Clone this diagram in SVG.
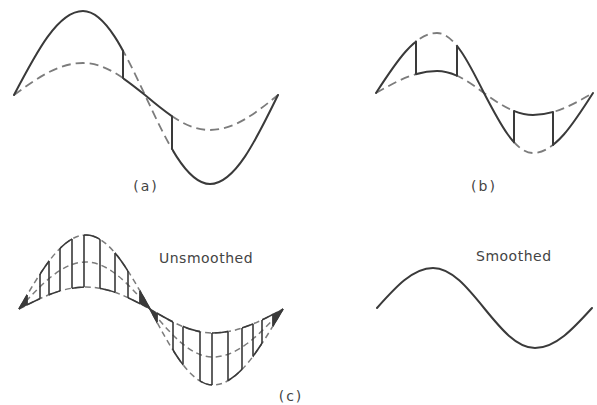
<svg xmlns="http://www.w3.org/2000/svg" width="597" height="405" viewBox="0 0 597 405">
<style>
.s{fill:none;stroke:#3a3a3a;stroke-width:2;stroke-linejoin:round;stroke-linecap:round}
.sc{fill:none;stroke:#3a3a3a;stroke-width:1.6;stroke-linejoin:round}
.d{fill:none;stroke:#7c7c7c;stroke-width:1.8;stroke-dasharray:9 5}
.dc{fill:none;stroke:#7c7c7c;stroke-width:1.5;stroke-dasharray:6 4}
.w{fill:#3a3a3a;stroke:#3a3a3a;stroke-width:1}
.t{font-family:"DejaVu Sans","Liberation Sans",sans-serif;fill:#444}
</style>
<defs>
<path id="aL" d="M14,95 C36.50,51.97 58.03,11 83,11 C105.44,11 124.78,51.97 145,95 C166.20,140.59 186.48,184 210,184 C234.61,184 255.82,140.59 278,95"/>
<path id="aS" d="M14,95 C36.50,78.61 58.03,63 83,63 C105.44,63 124.78,78.61 145,95 C166.20,112.93 186.48,130 210,130 C234.61,130 255.82,112.93 278,95"/>
<path id="bL" d="M376,93 C395.89,62.26 414.92,33 437,33 C454.01,33 468.67,62.26 484,93 C499.98,123.74 515.27,153 533,153 C554.71,153 573.43,123.74 593,93"/>
<path id="bS" d="M376,93 C395.89,81.73 414.92,71 437,71 C454.01,71 468.67,81.73 484,93 C499.98,104.27 515.27,115 533,115 C554.71,115 573.43,104.27 593,93"/>
<path id="cO" d="M19,309 C40.85,271.09 61.75,235 86,235 C109.16,235 129.13,271.09 150,309 C170.55,347.93 190.20,385 213,385 C238.33,385 260.17,347.93 283,309"/>
<path id="cM" d="M19,309 C40.85,284.92 61.75,262 86,262 C109.16,262 129.13,284.92 150,309 C170.55,333.59 190.20,357 213,357 C238.33,357 260.17,333.59 283,309"/>
<path id="cI" d="M19,309 C40.85,297.73 61.75,287 86,287 C109.16,287 129.13,297.73 150,309 C170.55,321.29 190.20,333 213,333 C238.33,333 260.17,321.29 283,309"/>
<clipPath id="kA1"><rect x="0" y="0" width="123" height="200"/><rect x="172" y="0" width="128" height="200"/></clipPath>
<clipPath id="kA2"><rect x="123" y="0" width="49" height="200"/></clipPath>
<clipPath id="kB1"><rect x="360" y="0" width="56" height="200"/><rect x="457" y="0" width="57" height="200"/><rect x="553" y="0" width="44" height="200"/></clipPath>
<clipPath id="kB2"><rect x="416" y="0" width="41" height="200"/><rect x="514" y="0" width="39" height="200"/></clipPath>
<clipPath id="kC1">
<rect x="0" y="220" width="27" height="180"/><rect x="40" y="220" width="9" height="180"/><rect x="60" y="220" width="12" height="180"/><rect x="84" y="220" width="16" height="180"/><rect x="115" y="220" width="13" height="180"/><rect x="140" y="220" width="17" height="180"/><rect x="173" y="220" width="10" height="180"/><rect x="200" y="220" width="12" height="180"/><rect x="228" y="220" width="14" height="180"/><rect x="253" y="220" width="9" height="180"/><rect x="273" y="220" width="27" height="180"/>
</clipPath>
<clipPath id="kC2">
<rect x="27" y="220" width="13" height="180"/><rect x="49" y="220" width="11" height="180"/><rect x="72" y="220" width="12" height="180"/><rect x="100" y="220" width="15" height="180"/><rect x="128" y="220" width="12" height="180"/><rect x="157" y="220" width="16" height="180"/><rect x="183" y="220" width="17" height="180"/><rect x="212" y="220" width="16" height="180"/><rect x="242" y="220" width="11" height="180"/><rect x="262" y="220" width="11" height="180"/>
</clipPath>
</defs>
<rect width="597" height="405" fill="#ffffff"/>

<g id="panel-a">
<use href="#aS" class="d" clip-path="url(#kA1)"/>
<use href="#aL" class="d" clip-path="url(#kA2)"/>
<use href="#aL" class="s" clip-path="url(#kA1)"/>
<use href="#aS" class="s" clip-path="url(#kA2)"/>
<path class="s" d="M123,50.6 V78.1 M172,116.3 V149"/>
<text class="t" x="146" y="191" font-size="14" text-anchor="middle" letter-spacing="2">(a)</text>
</g>

<g id="panel-b">
<use href="#bS" class="d" clip-path="url(#kB1)"/>
<use href="#bL" class="d" clip-path="url(#kB2)"/>
<use href="#bL" class="s" clip-path="url(#kB1)"/>
<use href="#bS" class="s" clip-path="url(#kB2)"/>
<path class="s" d="M416,41.6 V74.1 M457,45.9 V75.7 M514,111 V142.2 M553,112.1 V145"/>
<text class="t" x="484" y="191" font-size="14" text-anchor="middle" letter-spacing="2">(b)</text>
</g>

<g id="panel-c-unsmoothed">
<use href="#cO" class="dc"/>
<use href="#cM" class="dc"/>
<use href="#cI" class="dc"/>
<use href="#cO" class="sc" clip-path="url(#kC1)"/>
<use href="#cI" class="sc" clip-path="url(#kC2)"/>
<path class="sc" d="M27,295.2 V304.9 M40,274 V298.6 M49,261.1 V294.8 M60,248.3 V291 M72,239 V288.2 M84,235.1 V287 M100,239.3 V288.3 M115,253 V292.3 M128,270.9 V297.7 M140,291 V303.7 M157,313.2 V322.2 M173,322 V350.2 M183,326.6 V364.7 M200,331.7 V381 M212,333 V385 M228,331.7 V380.7 M242,328.1 V369.5 M253,324 V356.4 M262,319.9 V343.5 M273,314.3 V325.9"/>
<polygon class="w" points="19,309 27,295.2 27,304.9"/>
<polygon class="w" points="140,291 140,303.7 150,309"/>
<polygon class="w" points="150,309 157,322.2 157,313.2"/>
<polygon class="w" points="273,325.9 273,314.3 283,309"/>
<text class="t" x="159" y="263" font-size="14" letter-spacing="0.5">Unsmoothed</text>
</g>

<g id="panel-c-smoothed">
<path class="s" d="M377,308 C395.26,287.51 412.73,268 433,268 C451.46,268 467.37,287.51 484,308 C500.63,328.49 516.54,348 535,348 C555.63,348 573.41,328.49 592,308"/>
<text class="t" x="476" y="261" font-size="14" letter-spacing="0.5">Smoothed</text>
</g>

<text class="t" x="291" y="401" font-size="14" text-anchor="middle" letter-spacing="2">(c)</text>
</svg>
